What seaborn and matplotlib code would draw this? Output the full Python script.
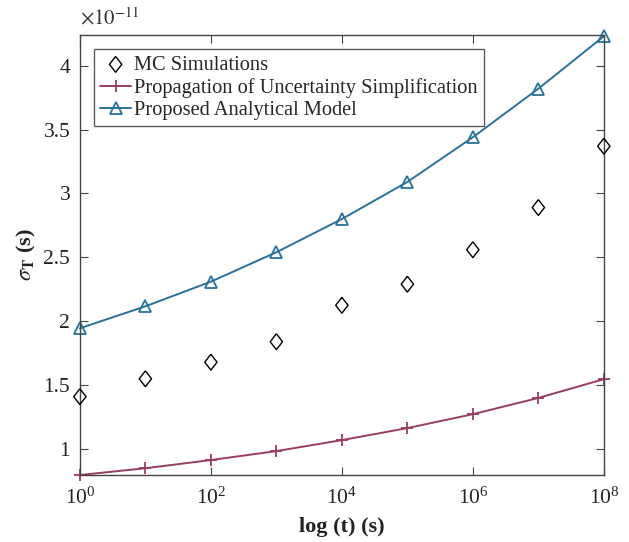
import numpy as np
import pandas as pd
import matplotlib
matplotlib.use('Agg')
import matplotlib.pyplot as plt
import matplotlib.ticker as mticker
import seaborn as sns

# data (sigma_T in seconds)
t = [1e0, 1e1, 1e2, 1e3, 1e4, 1e5, 1e6, 1e7, 1e8]
mc_sim = [1.41e-11, 1.55e-11, 1.68e-11, 1.84e-11, 2.125e-11, 2.29e-11, 2.56e-11, 2.89e-11, 3.37e-11]
prop_unc = [0.797e-11, 0.85e-11, 0.914e-11, 0.984e-11, 1.07e-11, 1.164e-11, 1.273e-11, 1.40e-11, 1.547e-11]
proposed = [1.945e-11, 2.117e-11, 2.31e-11, 2.54e-11, 2.80e-11, 3.09e-11, 3.44e-11, 3.82e-11, 4.23e-11]

df = pd.DataFrame({'t': t, 'mc': mc_sim, 'prop': prop_unc, 'model': proposed})

sns.set_style('ticks')
plt.rcParams['font.family'] = ['Liberation Serif', 'DejaVu Serif']
plt.rcParams['mathtext.fontset'] = 'stix'

blue = '#29719a'
purple = '#973d61'

# MATLAB-style diamond (slightly taller than wide)
diamond = [(0, 1), (0.78, 0), (0, -1), (-0.78, 0), (0, 1)]

fig = plt.figure(figsize=(6.29, 5.42), dpi=100)
ax = fig.add_axes([0.127, 0.1236, 0.833, 0.8118])

sns.scatterplot(data=df, x='t', y='mc', marker=diamond, s=130, facecolor='none',
                edgecolor='black', linewidth=1.0, ax=ax, label='MC Simulations',
                clip_on=False, zorder=4)
sns.lineplot(data=df, x='t', y='prop', color=purple, marker='+', markersize=9,
             markeredgecolor=purple, markeredgewidth=1.3, linewidth=1.4, ax=ax,
             label='Propagation of Uncertainty Simplification', clip_on=False)
sns.lineplot(data=df, x='t', y='model', color=blue, marker='^', markersize=8,
             markerfacecolor='none', markeredgecolor=blue, markeredgewidth=1.3,
             linewidth=1.4, ax=ax, label='Proposed Analytical Model', clip_on=False)

ax.set_xscale('log')
ax.set_xlim(1, 1e8)
ax.set_ylim(0.797e-11, 4.24e-11)
ax.set_xticks([1e0, 1e2, 1e4, 1e6, 1e8])
ax.xaxis.set_minor_locator(mticker.NullLocator())
ax.set_yticks(np.arange(1, 4.01, 0.5) * 1e-11)
ax.yaxis.set_major_formatter(mticker.FuncFormatter(lambda v, p: '%g' % round(v / 1e-11, 2)))
ax.text(0.0, 1.012, r'$\times10^{-11}$', transform=ax.transAxes, fontsize=15,
        ha='left', va='bottom', color='#333333')

ax.tick_params(direction='in', top=True, right=True, labelsize=15.5, length=6,
               colors='#444444', labelcolor='#222222')
ax.tick_params(axis='x', pad=9)
ax.tick_params(axis='y', pad=7)
for s in ax.spines.values():
    s.set_visible(True)
    s.set_color('#444444')
    s.set_linewidth(1.0)

ax.set_xlabel('log (t) (s)', fontsize=16, fontweight='bold', color='#222222', labelpad=6)
ax.set_ylabel(r'$\sigma_{\mathbf{T}}$ (s)', fontsize=16, fontweight='bold', color='#222222')

leg = ax.legend(loc='upper left', fontsize=14.7, frameon=True, fancybox=False,
                edgecolor='#333333', borderpad=0.3, labelspacing=0.15,
                handlelength=1.5, handletextpad=0.15, borderaxespad=0.7)
leg.get_frame().set_linewidth(1.0)

fig.savefig('out.png', dpi=100)
